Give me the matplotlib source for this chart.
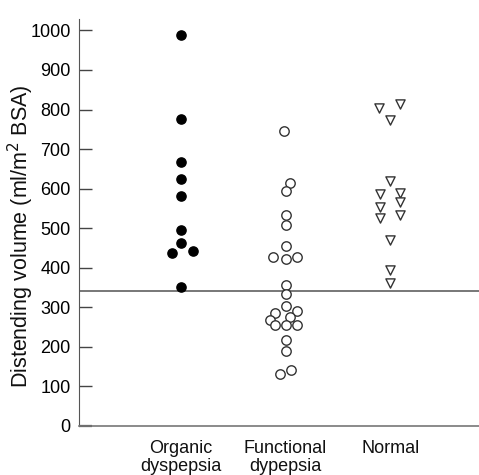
import matplotlib.pyplot as plt

plt.rcParams['font.family'] = ['Liberation Sans', 'DejaVu Sans']

groups = ['Organic\ndyspepsia', 'Functional\ndypepsia', 'Normal']

# distending volume values
organic = [989, 776, 667, 623, 581, 495, 462, 437, 441, 350]
functional = [745, 613, 594, 533, 509, 454, 428, 421, 428, 357, 334, 304,
              284, 289, 275, 267, 254, 254, 254, 218, 190, 131, 141]
normal = [803, 814, 774, 620, 587, 590, 567, 554, 526, 532, 469, 393, 360]

# horizontal spread of overlapping points (fraction of category spacing)
organic_dx = [0, 0, 0, 0, 0, 0, 0, -0.08, 0.115, 0]
functional_dx = [-0.01, 0.04, 0, 0, 0, 0, -0.115, 0, 0.105, 0, 0, 0,
                 -0.10, 0.105, 0.04, -0.146, -0.10, 0, 0.105, 0, 0, -0.05, 0.05]
normal_dx = [-0.105, 0.093, 0, 0, -0.095, 0.093, 0.093, -0.095, -0.095, 0.093, 0, 0, 0]

cutoff = 340

fig = plt.figure(figsize=(4.79, 4.75), dpi=100)
ax = fig.add_axes([0.165, 0.1038, 0.835, 0.857])

ax.scatter([1 + d for d in organic_dx], organic, s=44, c='black', marker='o', zorder=3)
ax.scatter([2 + d for d in functional_dx], functional, s=46, facecolors='white',
           edgecolors='#333333', linewidths=1.0, marker='o', zorder=3)
ax.scatter([3 + d for d in normal_dx], normal, s=44, facecolors='white',
           edgecolors='#333333', linewidths=1.0, marker='v', zorder=3)

ax.axhline(cutoff, color='#777777', lw=1.4, zorder=1)

ax.set_xlim(0.03, 3.846)
ax.set_ylim(0, 1030)
ax.set_yticks(range(0, 1001, 100))
ax.set_xticks([1, 2, 3])
ax.set_xticklabels(groups, fontsize=13, color='#111111', linespacing=1.1)
ax.tick_params(axis='x', length=0, pad=10)
ax.tick_params(axis='y', direction='in', length=9.5, width=1.0, color='#444444',
               labelsize=13, pad=6)
ax.yaxis.get_major_ticks()[0].tick1line.set_color('black')
ax.yaxis.get_major_ticks()[0].tick1line.set_markeredgewidth(1.6)

ax.spines['top'].set_visible(False)
ax.spines['right'].set_visible(False)
ax.spines['left'].set_color('#555555')
ax.spines['bottom'].set_color('#777777')
ax.spines['bottom'].set_linewidth(1.2)

ax.set_ylabel('Distending volume (ml/m$^2$ BSA)', fontsize=15.5, color='#111111')
ax.yaxis.set_label_coords(-0.108, 0.466)

fig.savefig('out.png', dpi=100)
